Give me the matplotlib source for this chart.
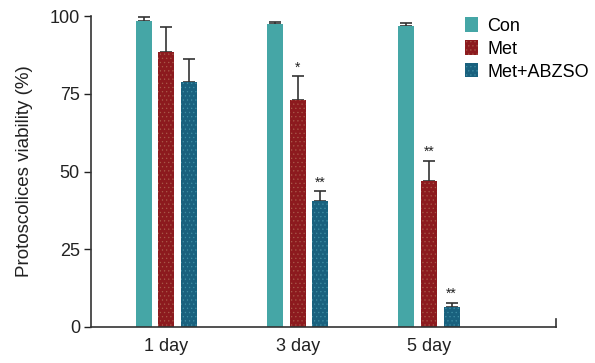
import numpy as np
import matplotlib.pyplot as plt

plt.rcParams['font.family'] = ['Liberation Sans', 'DejaVu Sans']

days = ['1 day', '3 day', '5 day']
groups = ['Con', 'Met', 'Met+ABZSO']
colors = ['#45a6a6', '#8c1a1e', '#19617e']
hatch_colors = ['#5cb8b8', '#a85a4a', '#3f8fa5']

con = [98.4, 97.4, 96.8]
met = [88.4, 72.9, 46.8]
abzso = [79.0, 40.6, 6.5]
con_err = [1.3, 0.8, 1.2]
met_err = [8.3, 7.8, 6.6]
abzso_err = [7.4, 3.0, 1.1]
stars = [['', '', ''], ['', '*', '**'], ['', '**', '**']]  # per day: Con, Met, ABZSO

values = [con, met, abzso]
errors = [con_err, met_err, abzso_err]

fig, ax = plt.subplots(figsize=(5.95, 3.63), dpi=100)
fig.subplots_adjust(left=0.153, right=0.935, top=0.955, bottom=0.1)

x = np.arange(len(days))
offsets = [-0.172, 0, 0.172]
width = 0.122

plt.rcParams['hatch.linewidth'] = 0.4
for i in range(3):
    pos = x + offsets[i]
    ax.bar(pos, values[i], width, color=colors[i], label=groups[i],
           edgecolor=hatch_colors[i], linewidth=0, hatch='....' if i > 0 else None,
           zorder=2)
    ax.errorbar(pos, values[i], yerr=[np.zeros(3), errors[i]], fmt='none',
                ecolor='#333333', elinewidth=1.2, capsize=4.5, capthick=1.2, zorder=1)
    for j in range(3):
        s = stars[j][i]
        if s:
            ax.text(pos[j], values[i][j] + errors[i][j] + 0.6, s, ha='center', va='bottom',
                    fontsize=10, color='#222222')

ax.set_xlim(-0.573, 2.97)
ax.set_ylim(0, 100)
ax.set_yticks([0, 25, 50, 75, 100])
ax.set_xticks(x)
ax.set_xticklabels(days)
ax.tick_params(axis='x', length=0, labelsize=13, pad=8, colors='#222222')
ax.tick_params(axis='y', length=5, width=1, labelsize=13, colors='#222222', pad=3)
ax.set_ylabel('Protoscolices viability (%)', fontsize=13.5, color='#222222', labelpad=12)

for side in ['top', 'right']:
    ax.spines[side].set_visible(False)
for side in ['left', 'bottom']:
    ax.spines[side].set_color('#333333')
    ax.spines[side].set_linewidth(1.2)
ax.plot([1, 1], [0, 0.025], transform=ax.transAxes, color='#333333', lw=1.2, clip_on=False)

ax.legend(loc='upper left', bbox_to_anchor=(0.788, 1.02), frameon=False, fontsize=13,
          handlelength=0.75, handleheight=0.85, handletextpad=0.5, labelspacing=0.3,
          borderaxespad=0)

fig.savefig('out.png')
